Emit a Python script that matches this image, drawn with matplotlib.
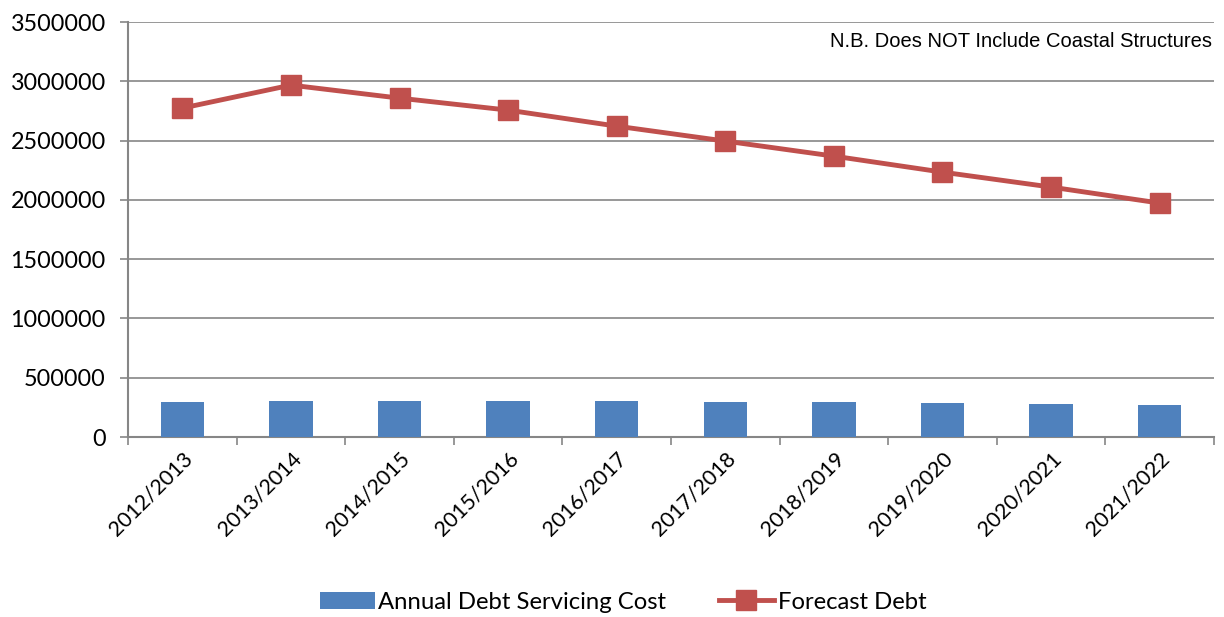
import numpy as np
import matplotlib.pyplot as plt

## Données
annees = ['2012/2013', '2013/2014', '2014/2015', '2015/2016', '2016/2017',
          '2017/2018', '2018/2019', '2019/2020', '2020/2021', '2021/2022']
cout_annuel = [293000, 307000, 307000, 307000, 305000, 298000, 298000, 284000, 278000, 270000]
dette_prevue = [2774000, 2968000, 2858000, 2757000, 2622000, 2496000, 2369000, 2234000, 2108000, 1973000]
yticks = [0, 500000, 1000000, 1500000, 2000000, 2500000, 3000000, 3500000]

## Figure
fig = plt.figure(figsize=(12.24, 6.17), dpi=100)
ax = fig.add_axes([0.1046, 0.2917, 0.8872, 0.6726])
x = np.arange(len(annees))

gris = '#868686'
barres = ax.bar(x, cout_annuel, width=0.4, color='#4F81BD', label='Annual Debt Servicing Cost', zorder=3)
ligne, = ax.plot(x, dette_prevue, color='#C0504D', lw=3.5, marker='s', ms=14,
                 label='Forecast Debt', zorder=4)

ax.set_xlim(-0.5, len(annees) - 0.5)
ax.set_ylim(0, 3500000)
ax.set_yticks(yticks)
ax.set_yticklabels([str(v) for v in yticks], fontsize=16.8, family='Lato')
ax.yaxis.grid(True, color=gris, lw=1.2, zorder=0)

ax.set_xticks(x)
ax.set_xticklabels(annees, rotation=45, ha='right', rotation_mode='anchor', fontsize=15.5, family='Lato')
ax.tick_params(axis='x', which='major', length=0, pad=8)
ax.set_xticks(np.arange(-0.5, len(annees)), minor=True)
ax.tick_params(axis='x', which='minor', length=6, color=gris, width=1.2)
ax.tick_params(axis='y', length=6, color=gris, width=1.2, pad=10)

for s in ['top', 'right']:
    ax.spines[s].set_visible(False)
for s in ['left', 'bottom']:
    ax.spines[s].set_color(gris)
    ax.spines[s].set_linewidth(1.5)

ax.text(0.998, 0.952, 'N.B. Does NOT Include Coastal Structures', transform=ax.transAxes,
        ha='right', va='center', fontsize=14.5, family='Liberation Sans')

leg = fig.legend(handles=[barres, ligne], loc='center', bbox_to_anchor=(0.509, 0.024), ncol=2,
                 frameon=False, prop={'family': 'Lato', 'size': 17.2}, handlelength=2.3,
                 columnspacing=2.2, handletextpad=0.15)

fig.savefig('out.png', dpi=100)
